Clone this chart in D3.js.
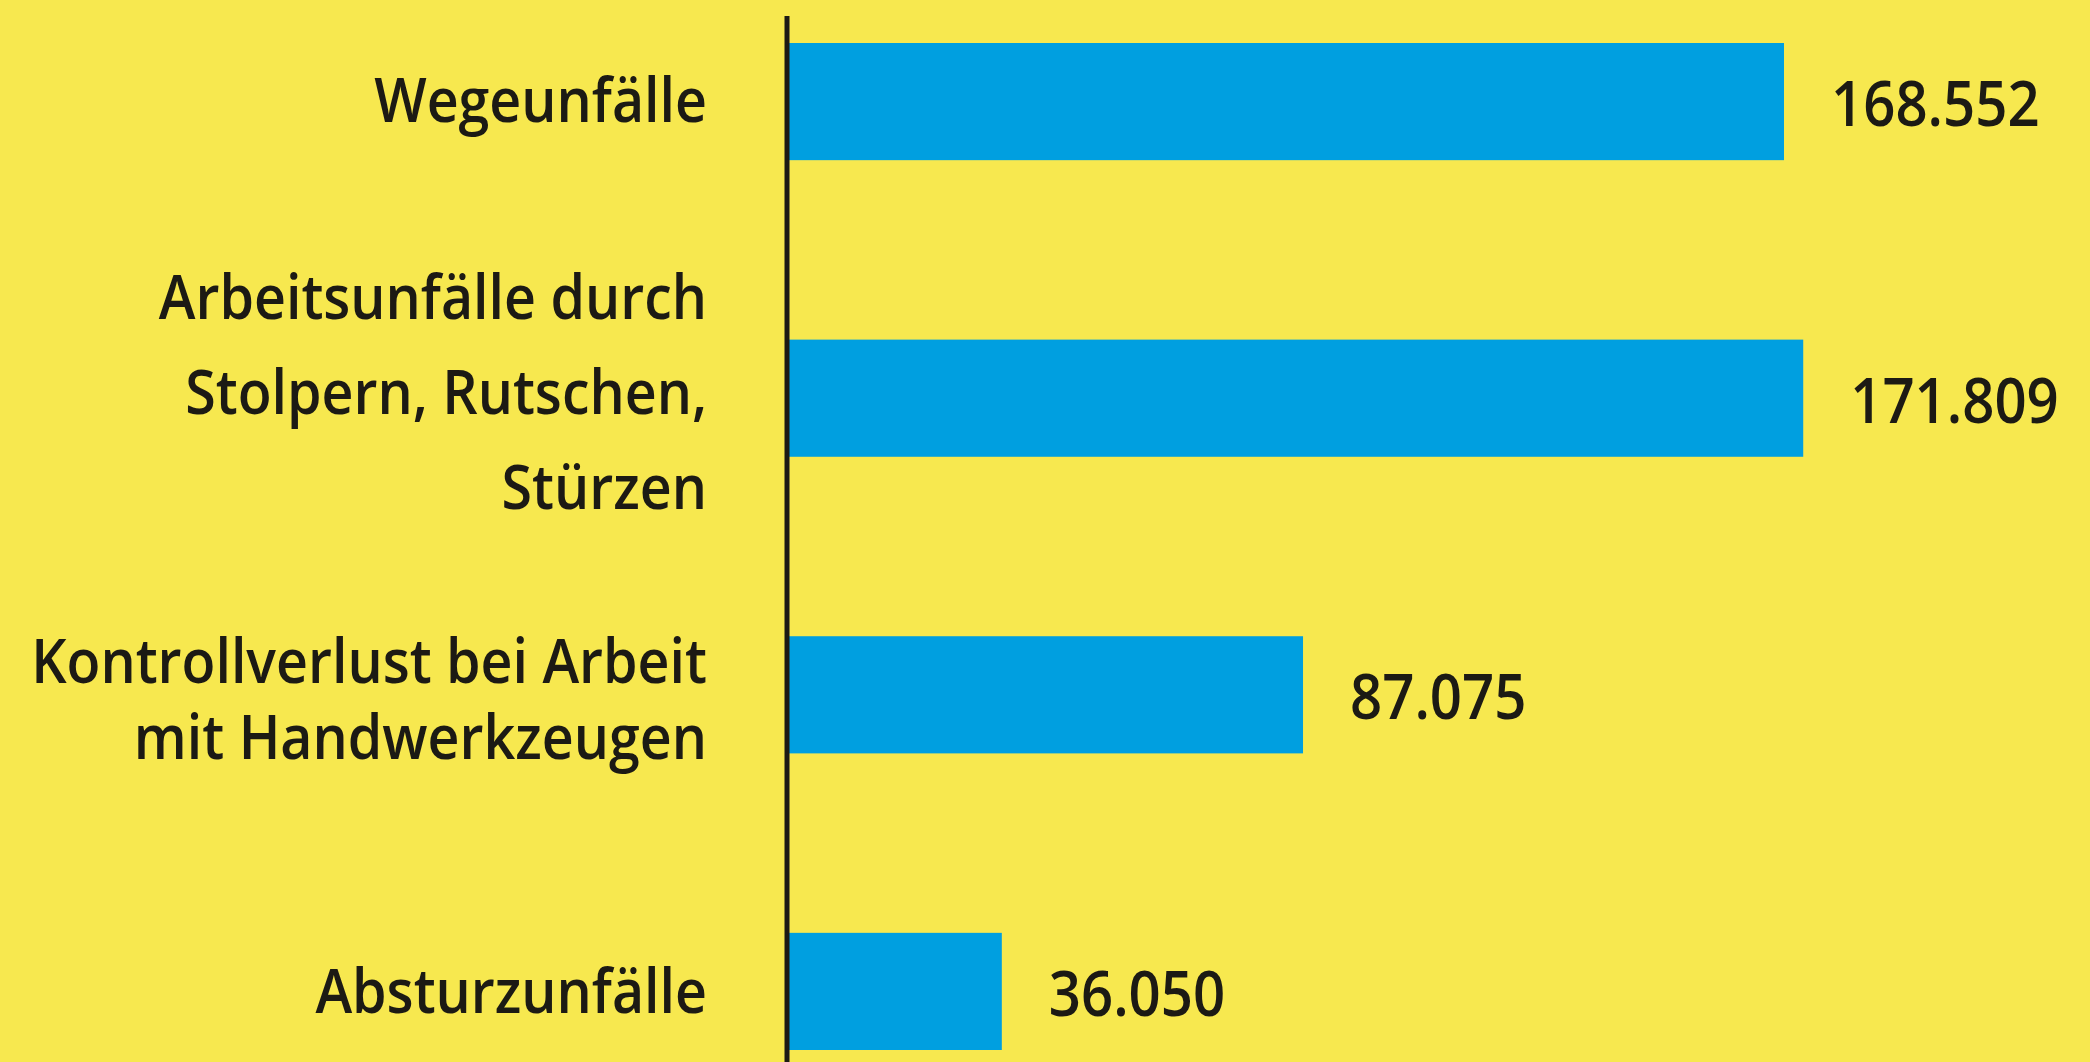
<!DOCTYPE html>
<html><head><meta charset="utf-8">
<script src="https://cdn.jsdelivr.net/npm/d3@7"></script>
<style>
html,body{margin:0;padding:0;background:#f7e84f;}
svg{display:block;}
</style></head>
<body>
<script>
const categories = ["Wegeunfälle", "Arbeitsunfälle durch Stolpern, Rutschen, Stürzen", "Kontrollverlust bei Arbeit mit Handwerkzeugen", "Absturzunfälle"];
const labelLines = [["Wegeunfälle"], ["Arbeitsunfälle durch", "Stolpern, Rutschen,", "Stürzen"], ["Kontrollverlust bei Arbeit", "mit Handwerkzeugen"], ["Absturzunfälle"]];
const values = [168552, 171809, 87075, 36050];
const valueLabels = ["168.552", "171.809", "87.075", "36.050"];

const W = 2090, H = 1062;
const axisX = 789;
const lineGap = [0, 95, 76, 0];
const groupShift = [-3, -8, 3, -2];
const sxLabel = 0.91;
const sxValue = 0.88;

const svg = d3.select("body").append("svg").attr("width", W).attr("height", H);
svg.append("rect").attr("width", W).attr("height", H).attr("fill", "#f7e84f");

const x = d3.scaleLinear().domain([0, 168552]).range([axisX, 1784]);
const y = d3.scaleBand().domain(categories).range([43, 1050]).paddingInner(0.605).paddingOuter(0);

svg.selectAll("rect.bar").data(categories).join("rect")
  .attr("class", "bar")
  .attr("x", x(0))
  .attr("y", d => y(d))
  .attr("width", (d, i) => x(values[i]) - x(0))
  .attr("height", y.bandwidth())
  .attr("fill", "#009fe0");

// axis line
svg.append("line").attr("x1", axisX - 2).attr("x2", axisX - 2).attr("y1", 16).attr("y2", H)
  .attr("stroke", "#1c1a14").attr("stroke-width", 5);

// category labels
categories.forEach((c, i) => {
  const lines = labelLines[i];
  const cy = y(c) + y.bandwidth() / 2 + groupShift[i];
  const n = lines.length;
  lines.forEach((t, j) => {
    const ly = cy + (j - (n - 1) / 2) * lineGap[i];
    svg.append("g").attr("transform", `translate(707,${ly}) scale(${sxLabel},1)`)
      .append("text")
      .attr("text-anchor", "end")
      .attr("dominant-baseline", "central")
      .attr("font-family", "'Open Sans', sans-serif")
      .attr("font-weight", 600)
      .attr("font-size", 61)
      .attr("fill", "#1c1a14")
      .text(t);
  });
});

// value labels
categories.forEach((c, i) => {
  const cy = y(c) + y.bandwidth() / 2;
  svg.append("g").attr("transform", `translate(${x(values[i]) + 47},${cy}) scale(${sxValue},1)`)
    .append("text")
    .attr("text-anchor", "start")
    .attr("dominant-baseline", "central")
    .attr("font-family", "'Open Sans', sans-serif")
    .attr("font-weight", 600)
    .attr("font-size", 64)
    .attr("fill", "#1c1a14")
    .text(valueLabels[i]);
});
</script>
</body></html>
